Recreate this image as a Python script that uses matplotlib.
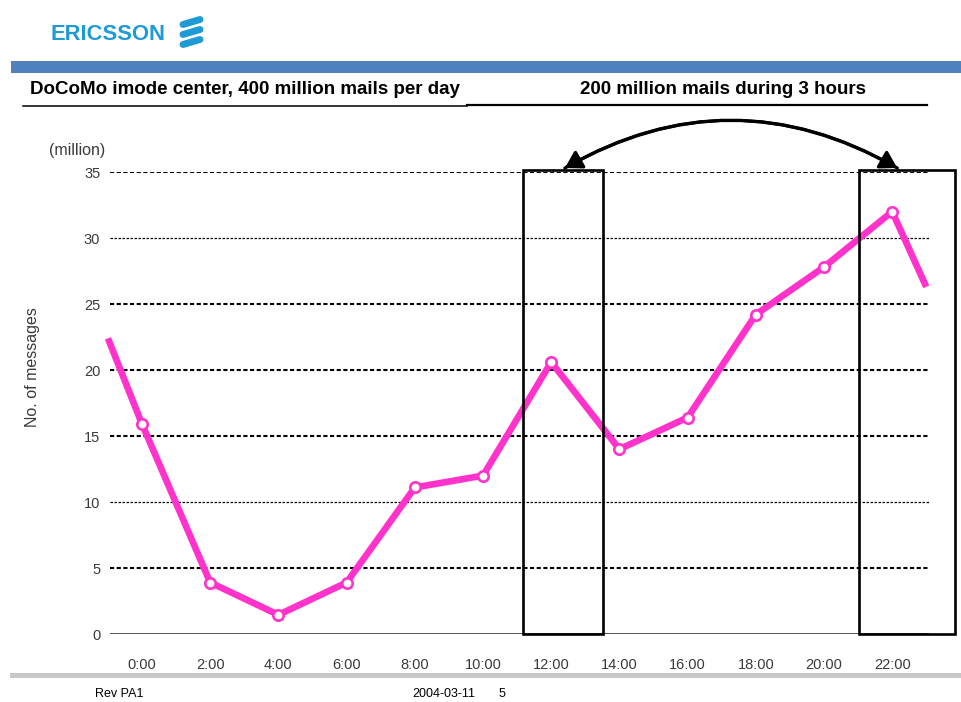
import matplotlib
matplotlib.use("Agg")
import matplotlib.pyplot as plt
from matplotlib.lines import Line2D
from matplotlib.patches import Rectangle, FancyArrowPatch

plt.rcParams['font.family'] = ['Liberation Sans', 'DejaVu Sans']

# ---- data ----
hours = [-1, 0, 2, 4, 6, 8, 10, 12, 14, 16, 18, 20, 22, 23]
messages = [22.4, 15.9, 3.9, 1.45, 3.9, 11.1, 12.0, 20.6, 14.0, 16.4, 24.2, 27.8, 32.0, 26.3]
marker_hours = [0, 2, 4, 6, 8, 10, 12, 14, 16, 18, 20, 22]
xtick_labels = ["0:00", "2:00", "4:00", "6:00", "8:00", "10:00", "12:00",
                "14:00", "16:00", "18:00", "20:00", "22:00"]
yticks = [0, 5, 10, 15, 20, 25, 30, 35]
highlight_windows = [(11.17, 13.52), (21.03, 23.84)]   # hour spans of boxes
title_left = "DoCoMo imode center, 400 million mails per day"
title_right = "200 million mails during 3 hours"

W, H = 962, 702
fig = plt.figure(figsize=(W / 100, H / 100), dpi=100)

def fx(p):
    return p / W

def fy(p):
    return 1 - p / H

# ---- header ----
fig.text(fx(50), fy(34), "ERICSSON", fontsize=15.8, fontweight='bold',
         color='#1e9ad6', ha='left', va='center')
for yc in (22, 32, 42):
    fig.add_artist(Line2D([fx(183), fx(200)], [fy(yc + 2.5), fy(yc - 2.5)],
                          transform=fig.transFigure, color='#1e9ad6',
                          lw=5.0, solid_capstyle='round'))
fig.add_artist(Rectangle((fx(11), fy(73)), fx(962) - fx(11), fy(61) - fy(73),
                         transform=fig.transFigure, color='#4f81bd', lw=0))
fig.text(fx(30), fy(89), title_left, fontsize=13.5, fontweight='bold',
         ha='left', va='center', color='black')
fig.text(fx(723), fy(89), title_right, fontsize=13.5, fontweight='bold',
         ha='center', va='center', color='black')
fig.add_artist(Line2D([fx(23), fx(467)], [fy(105.5), fy(105.5)],
                      transform=fig.transFigure, color='black', lw=1.1))
fig.add_artist(Line2D([fx(467), fx(927)], [fy(105), fy(105)],
                      transform=fig.transFigure, color='black', lw=1.6))

# ---- footer ----
fig.add_artist(Rectangle((fx(10), fy(678)), fx(962) - fx(10), fy(673) - fy(678),
                         transform=fig.transFigure, color='#c8c8c8', lw=0))
fig.text(fx(95), fy(688), "Rev PA1", fontsize=9, ha='left', va='top')
fig.text(fx(412), fy(688), "2004-03-11", fontsize=9, ha='left', va='top')
fig.text(fx(499), fy(688), "5", fontsize=9, ha='left', va='top')

# ---- axes ----
ax = fig.add_axes([fx(110), fy(634), fx(929) - fx(110), fy(172) - fy(634)])
ax.set_xlim(-0.94, 23.08)
ax.set_ylim(0, 35)
for s in ax.spines.values():
    s.set_visible(False)

ax.set_yticks(yticks)
ax.set_yticklabels([str(v) for v in yticks])
ax.set_xticks(marker_hours)
ax.set_xticklabels(xtick_labels)
ax.tick_params(axis='both', length=0, labelsize=10.5, labelcolor='#3a3a3a')
ax.tick_params(axis='x', pad=17)
ax.tick_params(axis='y', pad=7)

for v in yticks[1:]:
    lw = 0.9 if v in (10, 30) else 1.5
    ax.axhline(v, color='black', lw=lw, ls=(0, (2.0, 1.2)), zorder=1)
ax.axhline(0, color='#555555', lw=1.4, zorder=1)

line_color = '#ff33cc'
ax.plot(hours, messages, color=line_color, lw=4.8, solid_capstyle='butt',
        solid_joinstyle='miter', zorder=3, clip_on=False)
mvals = [messages[hours.index(h)] for h in marker_hours]
ax.plot(marker_hours, mvals, ls='none', marker='o', ms=7.5, mfc='white',
        mec=line_color, mew=1.9, zorder=4, clip_on=False)

# highlight boxes
for (a, b) in highlight_windows:
    ax.add_patch(Rectangle((a, 0), b - a, 35.15, fill=False, ec='black',
                           lw=1.9, zorder=5, clip_on=False))

# curved double arrow
for (p0, p1, rad) in (((12.4, 35.3), (22.15, 35.3), -0.285),
                      ((22.15, 35.3), (12.4, 35.3), 0.285)):
    ax.add_patch(FancyArrowPatch(p0, p1,
                                 connectionstyle=f"arc3,rad={rad}",
                                 arrowstyle="-|>,head_length=10,head_width=6",
                                 color='black', lw=2.3, zorder=6, clip_on=False,
                                 shrinkA=0, shrinkB=0))

fig.text(fx(77), fy(150), "(million)", fontsize=11.5, color='#3a3a3a',
         ha='center', va='center')
fig.text(fx(33), fy(367), "No. of messages", fontsize=11.5, color='#3a3a3a',
         ha='center', va='center', rotation=90)

fig.savefig("out.png", dpi=100)
